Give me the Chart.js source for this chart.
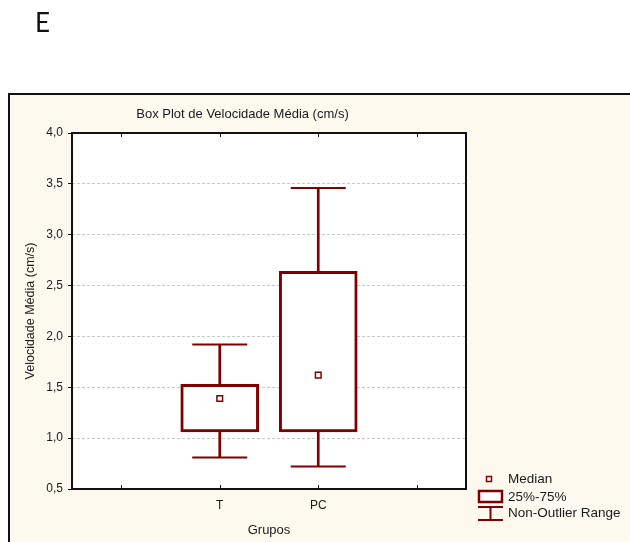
<!DOCTYPE html>
<html>
<head>
<meta charset="utf-8">
<title>Box Plot de Velocidade Média</title>
<script src="https://cdn.jsdelivr.net/npm/chart.js@4.4.0/dist/chart.umd.min.js"></script>
<style>
  html, body { margin: 0; padding: 0; background: #fff; }
  canvas { display: block; }
</style>
</head>
<body>
<canvas id="box-chart" width="630" height="542"></canvas>
<script>
// ================== data ======================
const groups = ["T", "PC"];
const whiskerLow = [0.81, 0.72];
const quartile1 = [1.06, 1.06];
const medians = [1.39, 1.62];
const quartile3 = [1.53, 2.64];
const whiskerHigh = [1.92, 3.46];
const yTicks = [0.5, 1.0, 1.5, 2.0, 2.5, 3.0, 3.5, 4.0];
const legendLabels = ["Median", "25%-75%", "Non-Outlier Range"];

const darkRed = "#800000";
const cream = "#fdf9ef";
const fontFamily = '"Liberation Sans", Arial, sans-serif';
Chart.defaults.font.family = fontFamily;
Chart.defaults.color = "#1a1a1a";

// empty slot on each side of the two groups, like the original axis
const pad = (arr) => [null, ...arr, null];
const slots = ["", ...groups, ""];

// ================== plugins ======================
const backdrop = {
  id: "backdrop",
  beforeDraw(chart) {
    const ctx = chart.ctx;
    const area = chart.chartArea;
    ctx.save();
    ctx.fillStyle = "#fff";
    ctx.fillRect(0, 0, chart.width, chart.height);
    ctx.fillStyle = cream;
    ctx.fillRect(9, 94, chart.width - 9, chart.height - 94);
    ctx.strokeStyle = "#111";
    ctx.lineWidth = 2;
    ctx.beginPath();
    ctx.moveTo(chart.width, 94);
    ctx.lineTo(9, 94);
    ctx.lineTo(9, chart.height);
    ctx.stroke();
    ctx.fillStyle = "#fff";
    ctx.fillRect(area.left, area.top, area.right - area.left, area.bottom - area.top);
    // panel letter
    ctx.fillStyle = "#111";
    ctx.font = '26px Lato, "Noto Sans", sans-serif';
    ctx.textBaseline = "alphabetic";
    ctx.fillText("E", 35, 32);
    ctx.restore();
  },
};

const frame = {
  id: "frame",
  afterDraw(chart) {
    const ctx = chart.ctx;
    const area = chart.chartArea;
    const x = chart.scales.x;
    ctx.save();
    ctx.strokeStyle = "#111";
    ctx.lineWidth = 2;
    ctx.strokeRect(area.left, area.top, area.right - area.left, area.bottom - area.top);
    // inward tick marks on top and bottom
    ctx.lineWidth = 1;
    ctx.beginPath();
    for (let i = 0; i < slots.length; i++) {
      const px = Math.round(x.getPixelForTick(i)) + 0.5;
      ctx.moveTo(px, area.bottom);
      ctx.lineTo(px, area.bottom - 4);
      ctx.moveTo(px, area.top);
      ctx.lineTo(px, area.top + 4);
    }
    ctx.stroke();

    // legend
    const lx = 478;
    const tx = 508;
    const rows = [479, 497, 513];
    ctx.strokeStyle = darkRed;
    ctx.fillStyle = "#fff";
    ctx.lineWidth = 1.5;
    ctx.strokeRect(486.5, rows[0] - 2.5, 5, 5);
    ctx.lineWidth = 2.5;
    ctx.fillRect(lx + 1, 491, 23, 11);
    ctx.strokeRect(lx + 1, 491, 23, 11);
    ctx.lineWidth = 2;
    ctx.beginPath();
    ctx.moveTo(lx, 507);
    ctx.lineTo(lx + 25, 507);
    ctx.moveTo(lx + 12.5, 507);
    ctx.lineTo(lx + 12.5, 520);
    ctx.moveTo(lx, 520);
    ctx.lineTo(lx + 25, 520);
    ctx.stroke();
    ctx.fillStyle = "#1a1a1a";
    ctx.font = "13.5px " + fontFamily;
    ctx.textBaseline = "middle";
    legendLabels.forEach((label, i) => ctx.fillText(label, tx, rows[i] + 0.5));
    ctx.restore();
  },
};

// ================== box plot ======================
const boxCanvas = document.getElementById("box-chart");

let boxChart = new Chart(boxCanvas, {
  type: "bar",
  data: {
    labels: slots,
    datasets: [
      {
        label: "Median",
        type: "line",
        data: pad(medians),
        showLine: false,
        pointStyle: "rect",
        pointRadius: 4,
        pointBorderWidth: 1.5,
        pointBorderColor: darkRed,
        pointBackgroundColor: "#fff",
        order: 0,
      },
      {
        label: "25%-75%",
        data: pad(quartile1.map((q, i) => [q, quartile3[i]])),
        backgroundColor: "#fff",
        borderColor: darkRed,
        borderWidth: 3,
        borderSkipped: false,
        barThickness: 78,
        grouped: false,
        order: 1,
      },
      {
        label: "upper whisker",
        data: pad(quartile3.map((q, i) => [q, whiskerHigh[i]])),
        backgroundColor: darkRed,
        borderWidth: 0,
        barThickness: 2,
        grouped: false,
        order: 2,
      },
      {
        label: "lower whisker",
        data: pad(quartile1.map((q, i) => [whiskerLow[i], q])),
        backgroundColor: darkRed,
        borderWidth: 0,
        barThickness: 2,
        grouped: false,
        order: 2,
      },
      {
        label: "max",
        type: "line",
        data: pad(whiskerHigh),
        showLine: false,
        pointStyle: "line",
        pointRadius: 27.5,
        pointBorderWidth: 2,
        pointBorderColor: darkRed,
        borderColor: darkRed,
        order: 3,
      },
      {
        label: "min",
        type: "line",
        data: pad(whiskerLow),
        showLine: false,
        pointStyle: "line",
        pointRadius: 27.5,
        pointBorderWidth: 2,
        pointBorderColor: darkRed,
        borderColor: darkRed,
        order: 3,
      },
    ],
  },
  options: {
    responsive: false,
    animation: false,
    events: [],
    layout: {
      padding: { top: 100, left: 19, right: 164, bottom: 0 },
    },
    scales: {
      x: {
        offset: true,
        grid: { display: false, offset: false },
        border: { display: false },
        ticks: { font: { size: 12 }, padding: 1, maxRotation: 0 },
        title: { display: true, text: "Grupos", font: { size: 13 }, padding: 4 },
        afterFit: (s) => {
          s.height = 53;
        },
      },
      y: {
        min: 0.5,
        max: 4.0,
        afterBuildTicks: (s) => {
          s.ticks = yTicks.map((v) => ({ value: v }));
        },
        grid: {
          color: "#c8c8c8",
          tickColor: "#111",
          tickLength: 4,
          drawTicks: true,
        },
        border: { display: false, dash: [3, 2] },
        ticks: {
          font: { size: 12 },
          padding: 5,
          callback: (v) => v.toFixed(1).replace(".", ","),
        },
        title: {
          display: true,
          text: "Velocidade Média (cm/s)",
          font: { size: 12.5 },
          padding: 4,
        },
        afterFit: (s) => {
          s.width = 53;
        },
      },
    },
    plugins: {
      legend: { display: false },
      tooltip: { enabled: false },
      title: {
        display: true,
        text: "Box Plot de Velocidade Média (cm/s)",
        font: { size: 13, weight: "normal" },
        color: "#1a1a1a",
        padding: { top: 7, bottom: 10.4 },
      },
    },
  },
  plugins: [backdrop, frame],
});
</script>
</body>
</html>
